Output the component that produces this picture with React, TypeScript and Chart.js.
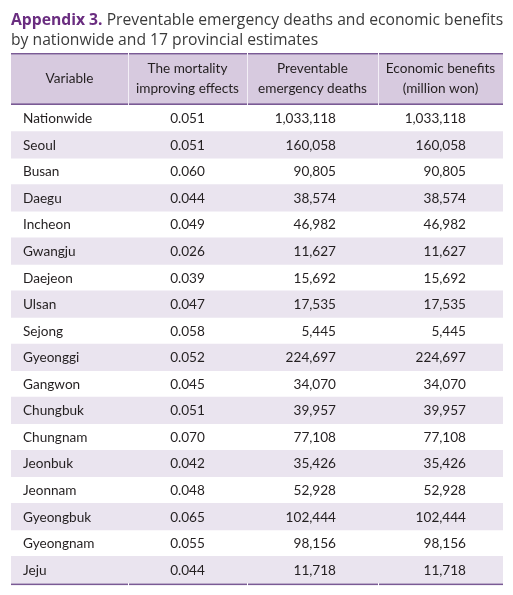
import React, { useEffect, useRef } from "react";
import { Chart, registerables } from "chart.js";

Chart.register(...registerables);

const regions = [
  "Nationwide", "Seoul", "Busan", "Daegu", "Incheon", "Gwangju", "Daejeon", "Ulsan", "Sejong",
  "Gyeonggi", "Gangwon", "Chungbuk", "Chungnam", "Jeonbuk", "Jeonnam", "Gyeongbuk", "Gyeongnam", "Jeju",
];
const mortality = [
  0.051, 0.051, 0.06, 0.044, 0.049, 0.026, 0.039, 0.047, 0.058,
  0.052, 0.045, 0.051, 0.07, 0.042, 0.048, 0.065, 0.055, 0.044,
];
const deaths = [
  1033118, 160058, 90805, 38574, 46982, 11627, 15692, 17535, 5445,
  224697, 34070, 39957, 77108, 35426, 52928, 102444, 98156, 11718,
];
const benefits = [
  1033118, 160058, 90805, 38574, 46982, 11627, 15692, 17535, 5445,
  224697, 34070, 39957, 77108, 35426, 52928, 102444, 98156, 11718,
];
const headers = [
  ["Variable"],
  ["The mortality", "improving effects"],
  ["Preventable", "emergency deaths"],
  ["Economic benefits", "(million won)"],
];

// layout (table units = px across the table width)
const TABLE_W = 492;
const colEdges = [0, 117, 236, 367, 492];
const HEADER_H = 51;
const LINE = "#7a5a95";
const HEADER_BG = "#d7cadf";
const BAND = "#eae4ef";
const TEXT = "#231f20";
const FONT = "13.6px Lato";

const fmt = (n: number) => n.toLocaleString("en-US");

const tablePlugin = {
  id: "tablePlugin",
  beforeDatasetsDraw(chart: any) {
    const { ctx, chartArea, scales } = chart;
    const x = scales.x;
    const top = chartArea.top;
    ctx.save();
    ctx.fillStyle = HEADER_BG;
    ctx.fillRect(x.getPixelForValue(0), top - HEADER_H + 1, x.getPixelForValue(TABLE_W) - x.getPixelForValue(0), HEADER_H - 1);
    ctx.fillStyle = "rgba(255,255,255,0.7)";
    for (let c = 1; c < colEdges.length - 1; c++) {
      const px = Math.round(x.getPixelForValue(colEdges[c]));
      ctx.fillRect(px, top - HEADER_H + 1, 1, HEADER_H - 1);
    }
    ctx.restore();
  },
  afterDatasetsDraw(chart: any) {
    const { ctx, chartArea, scales } = chart;
    const x = scales.x;
    const y = scales.y;
    const top = chartArea.top;
    ctx.save();
    // horizontal rules, with small gaps at column edges
    const rule = (yy: number) => {
      ctx.fillStyle = LINE;
      for (let c = 0; c < colEdges.length - 1; c++) {
        const x0 = x.getPixelForValue(colEdges[c]) + (c > 0 ? 1 : 0);
        const x1 = x.getPixelForValue(colEdges[c + 1]);
        ctx.fillRect(x0, yy, x1 - x0, 1.6);
      }
    };
    rule(top - HEADER_H - 1);
    rule(top - 1.6);
    rule(chartArea.bottom + 0.5);

    // header text
    ctx.fillStyle = TEXT;
    ctx.font = FONT;
    ctx.textAlign = "center";
    ctx.textBaseline = "middle";
    const hMid = top - HEADER_H / 2 - 1;
    headers.forEach((lines, c) => {
      const cx = (x.getPixelForValue(colEdges[c]) + x.getPixelForValue(colEdges[c + 1])) / 2;
      lines.forEach((t, k) => {
        const off = lines.length === 1 ? 0 : (k === 0 ? -10 : 10);
        ctx.fillText(t, cx, hMid + off);
      });
    });

    // body
    regions.forEach((r, i) => {
      const py = y.getPixelForValue(i) + 0.5;
      ctx.textAlign = "left";
      ctx.fillText(r, x.getPixelForValue(colEdges[0] + 12), py);
      ctx.textAlign = "center";
      ctx.fillText(mortality[i].toFixed(3), (x.getPixelForValue(colEdges[1]) + x.getPixelForValue(colEdges[2])) / 2, py);
      ctx.textAlign = "right";
      ctx.fillText(fmt(deaths[i]), x.getPixelForValue(colEdges[3] - 42), py);
      ctx.fillText(fmt(benefits[i]), x.getPixelForValue(colEdges[4] - 37), py);
    });
    ctx.restore();
  },
};

export default function App() {
  const ref = useRef<HTMLCanvasElement>(null);
  useEffect(() => {
    if (!ref.current) return;
    const chart = new Chart(ref.current, {
      type: "bar",
      data: {
        labels: regions,
        datasets: [
          {
            data: regions.map((_, i) => (i % 2 === 1 ? [0, TABLE_W] : null)) as any,
            backgroundColor: BAND,
            barPercentage: 1,
            categoryPercentage: 1,
            borderWidth: 0,
          },
        ],
      },
      options: {
        indexAxis: "y",
        animation: false,
        responsive: false,
        maintainAspectRatio: false,
        layout: { padding: { left: 11, right: 10, top: 105, bottom: 12 } },
        plugins: { legend: { display: false }, tooltip: { enabled: false }, title: { display: false } },
        scales: {
          x: { type: "linear", min: 0, max: TABLE_W, display: false },
          y: { type: "category", display: false, offset: true },
        },
      },
      plugins: [tablePlugin],
    });
    return () => chart.destroy();
  }, []);

  return (
    <div style={{ position: "absolute", left: 0, top: 0, width: 513, height: 595, background: "#fff" }}>
      <canvas ref={ref} width={513} height={595} style={{ position: "absolute", left: 0, top: 0 }} />
      <div
        style={{
          position: "absolute",
          left: 11,
          top: 9,
          fontFamily: "'Open Sans'",
          fontSize: 15.7,
          lineHeight: "20px",
          color: "#3a3a3a",
          whiteSpace: "nowrap",
        }}
      >
        <span style={{ fontWeight: "bold", color: "#6a2d80" }}>Appendix 3.</span> Preventable emergency deaths and economic benefits
        <br />
        by nationwide and 17 provincial estimates
      </div>
    </div>
  );
}
